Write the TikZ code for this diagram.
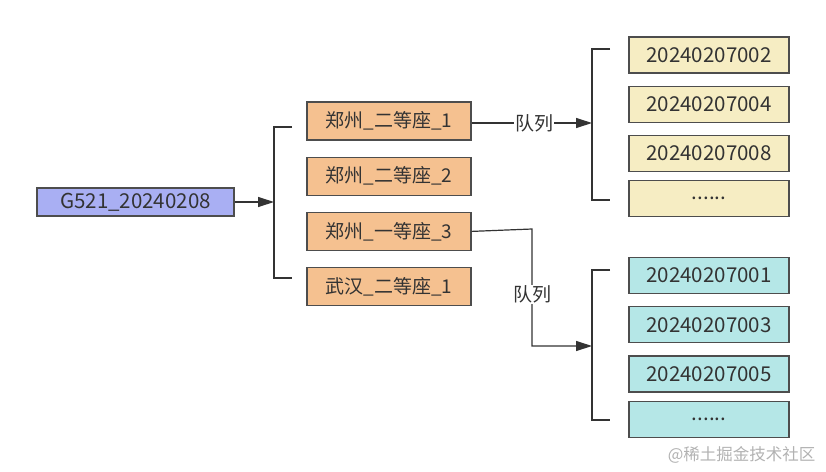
\documentclass[tikz,border=0pt]{standalone}
\usepackage{fontspec}
\setmainfont{Noto Sans CJK SC}
\usetikzlibrary{arrows.meta,positioning}

\definecolor{trainblue}{HTML}{A9AFF3}
\definecolor{seatorange}{HTML}{F5C190}
\definecolor{ticketyellow}{HTML}{F6EDC3}
\definecolor{ticketcyan}{HTML}{B5E7E7}
\definecolor{edgegray}{HTML}{4D4D4D}

\begin{document}
\begin{tikzpicture}[%
    x=1pt, y=-1pt,              % work in pixels of the sketch
    >={Triangle[length=16pt,width=10pt]},
    ]
% -------------------------------------------------
% Box and line styles
\tikzset{
  base/.style={draw=edgegray, line width=1.2pt, inner sep=0pt,
    text=black!80, font=\fontsize{20.5}{22}\selectfont},
  train/.style={base, fill=trainblue, minimum width=197pt, minimum height=28pt},
  seat/.style={base, fill=seatorange, minimum width=164pt, minimum height=38pt,
    font=\fontsize{19}{21}\selectfont},
  tkyel/.style={base, fill=ticketyellow, minimum width=160pt, minimum height=36pt},
  tkcyan/.style={base, fill=ticketcyan, minimum width=160pt, minimum height=36pt},
  % connectors
  norm/.style={draw=black!80, line width=1.2pt},
  arr/.style={norm, ->},
  lab/.style={fill=white, inner sep=1pt, text=black!80,
    font=\fontsize{19}{21}\selectfont}
}
\useasboundingbox (0,0) rectangle (826,471);
% -------------------------------------------------
% Train and its seat groups
\node [train] (g) at (135.5,202) {G521\_20240208};
\node [seat] (z1) at (389,121) {郑州\_二等座\_1};
\node [seat, below=16pt of z1] (z2) {郑州\_二等座\_2};
\node [seat, below=16pt of z2] (z3) {郑州\_一等座\_3};
\node [seat, below=16pt of z3] (w1) {武汉\_二等座\_1};

% Queues of tickets
\node [tkyel] (a1) at (709,55) {20240207002};
\node [tkyel, below=12pt of a1] (a2) {20240207004};
\node [tkyel, below=12pt of a2] (a3) {20240207008};
\node [tkyel, below=8pt of a3] (a4) {......};

\node [tkcyan] (b1) at (709,275.5) {20240207001};
\node [tkcyan, below=12pt of b1] (b2) {20240207003};
\node [tkcyan, below=12pt of b2] (b3) {20240207005};
\node [tkcyan, below=8pt of b3] (b4) {......};

% -------------------------------------------------
% Brackets
\draw [norm] (292,127) -- (274,127) -- (274,278) -- (292,278);
\draw [norm] (610,49) -- (592,49) -- (592,200) -- (610,200);
\draw [norm] (610,270) -- (592,270) -- (592,420) -- (610,420);
\coordinate (lb) at (274,202);
\coordinate (ra) at (592,123);
\coordinate (rb) at (592,346);
\coordinate (bend) at (532,229);

% Connectors
\draw [arr] (g.east) -- (lb);
\draw [arr] (z1.east |- ra) -- node [lab, pos=0.52] {队列} (ra);
\draw [arr] (z3.east) -- (bend) -- node [lab, pos=0.56] {队列} (bend |- rb) -- (rb);

% -------------------------------------------------
\node [text=black!30, font=\fontsize{16.5}{18}\selectfont, anchor=east] (wm)
  at (819,455) {@稀土掘金技术社区};
\end{tikzpicture}
\end{document}
